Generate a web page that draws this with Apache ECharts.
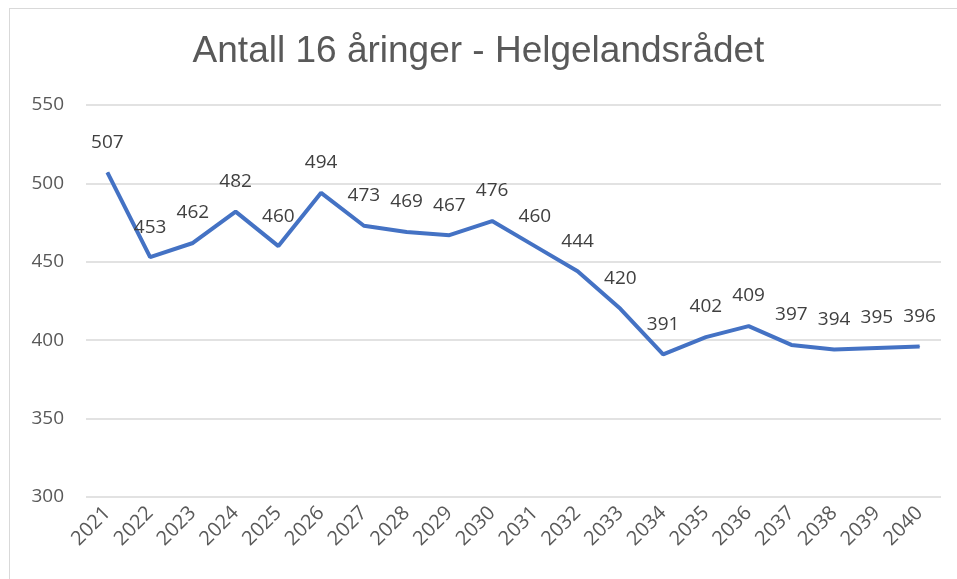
<!DOCTYPE html>
<html>
<head>
<meta charset="utf-8">
<script src="https://cdn.jsdelivr.net/npm/echarts@6/dist/echarts.min.js"></script>
<style>
  html, body { margin: 0; padding: 0; background: #fff; }
  #frame { position: absolute; left: 9px; top: 8px; width: 960px; height: 580px; border: 1px solid #d9d9d9; box-sizing: border-box; }
  #chart { position: absolute; left: 0; top: 0; width: 957px; height: 579px; }
</style>
</head>
<body>
<div id="frame"></div>
<div id="chart"></div>
<script>
const years = ['2021', '2022', '2023', '2024', '2025', '2026', '2027', '2028', '2029', '2030',
  '2031', '2032', '2033', '2034', '2035', '2036', '2037', '2038', '2039', '2040'];
const antall = [507, 453, 462, 482, 460, 494, 473, 469, 467, 476,
  460, 444, 420, 391, 402, 409, 397, 394, 395, 396];

const myChart = echarts.init(document.getElementById('chart'));
const option = {
  backgroundColor: 'transparent',
  title: {
    text: 'Antall 16 åringer - Helgelandsrådet',
    left: 'center',
    top: 28,
    textStyle: {
      fontFamily: 'Liberation Sans',
      fontWeight: 'normal',
      fontSize: 37,
      color: '#595959'
    }
  },
  grid: {left: 86, right: 16, top: 105, bottom: 82},
  xAxis: {
    type: 'category',
    data: years,
    boundaryGap: true,
    axisLine: {show: false},
    axisTick: {show: false},
    axisLabel: {
      rotate: 45,
      margin: 13,
      fontFamily: 'Open Sans',
      fontSize: 20,
      color: '#595959'
    }
  },
  yAxis: {
    type: 'value',
    min: 300,
    max: 550,
    interval: 50,
    axisLine: {show: false},
    axisTick: {show: false},
    axisLabel: {
      margin: 22,
      fontFamily: 'Open Sans',
      fontSize: 19,
      color: '#595959'
    },
    splitLine: {lineStyle: {color: '#d9d9d9', width: 1.5}}
  },
  series: [
    {
      name: 'Antall',
      type: 'line',
      data: antall,
      symbol: 'circle',
      symbolSize: 1,
      showSymbol: true,
      itemStyle: {color: '#4472C4'},
      lineStyle: {color: '#4472C4', width: 4},
      label: {
        show: true,
        position: 'top',
        distance: 20,
        fontFamily: 'Open Sans',
        fontSize: 19,
        color: '#404040'
      },
      animation: false
    }
  ]
};
myChart.setOption(option);
</script>
</body>
</html>
